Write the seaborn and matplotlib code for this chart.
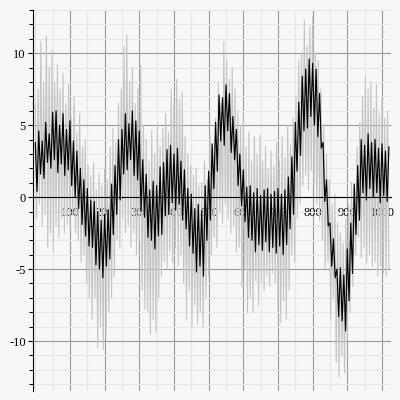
import numpy as np
import pandas as pd
import matplotlib
matplotlib.use("Agg")
import matplotlib.pyplot as plt
import seaborn as sns
from matplotlib.ticker import MultipleLocator, FixedLocator

# ---------------- data (sample index vs. value) ----------------
# black (clean) signal: alternating upper / lower swings
black_step = 10
black_hi = [3.8, 4.6, 3.9, 5.2, 4.4, 5.9, 6.0, 5.0, 5.8, 4.7,
            5.3, 3.9, 3.2, 2.0, 1.2, 0.6, -0.2, -0.3, -1.0, -1.6,
            -1.2, -0.9, 0.9, 2.2, 4.0, 4.7, 5.8, 5.1, 6.0, 5.3,
            4.6, 2.6, 1.6, 0.5, 1.1, 0.8, 2.1, 2.4, 3.3, 3.6,
            3.0, 3.4, 2.5, 1.9, 0.6, 0.2, -0.8, -0.5, -0.9, 0.8,
            1.8, 3.7, 5.2, 7.1, 6.9, 7.8, 7.2, 5.6, 4.7, 3.0,
            1.9, 0.7, 0.8, 0.3, 0.6, 0.1, 0.5, 0.6, 0.2, 0.4,
            0.6, 0.2, 0.5, 1.4, 2.8, 5.2, 6.6, 8.4, 8.9, 9.6,
            9.3, 8.9, 7.2, 3.8, 1.2, -1.8, -2.9, -5.0, -4.9, -5.4,
            -3.6, -1.8, 0.9, 2.2, 4.0, 3.6, 4.4, 3.8, 4.0, 3.4,
            3.7, 3.2, 3.5]
black_lo = [0.4, 1.6, 1.3, 2.4, 2.0, 2.6, 1.7, 2.3, 1.5, 1.9,
            0.8, 0.0, -0.8, -1.9, -2.7, -3.4, -3.5, -4.7, -5.0, -5.6,
            -4.8, -4.3, -2.6, -1.2, -0.2, 1.6, 1.9, 2.6, 1.5, 1.2,
            -1.0, -1.4, -2.8, -3.0, -3.6, -2.7, -2.6, -1.3, -1.2, -0.4,
            -0.9, -0.5, -1.6, -2.2, -3.4, -3.9, -5.2, -4.8, -5.5, -3.0,
            -1.6, 0.6, 1.8, 3.9, 3.6, 4.6, 3.1, 2.6, 0.8, -0.6,
            -1.7, -2.8, -3.0, -3.8, -3.3, -3.7, -3.1, -3.8, -3.5, -3.9,
            -3.4, -4.0, -3.3, -2.2, -1.2, 1.8, 2.9, 4.6, 4.8, 5.6,
            5.0, 4.2, 3.4, -0.3, -2.0, -4.8, -5.6, -8.3, -8.6, -9.3,
            -7.2, -5.3, -2.6, -1.6, 0.3, -0.2, 0.6, 0.0, 0.3, -0.4,
            0.1, -0.3]

# gray (noisy) signal: alternating upper / lower spikes
gray_step = 8
gray_hi = [6.5, 7.5, 10.8, 8.0, 11.2, 9.0,
           10.2, 8.0, 9.2, 7.5, 8.6, 6.5, 7.8,
           5.5, 7.0, 4.5, 5.8, 3.5, 4.0, 2.2,
           1.5, 2.4, 0.5, 1.6, 0.8, 2.0,
           1.2, 3.5, 4.8, 3.8, 6.5, 7.5, 10.5,
           11.3, 8.0, 9.0, 6.5, 7.5, 9.2, 5.0,
           4.0, 2.5, 4.6, 3.0, 5.0, 3.5,
           4.8, 5.8, 4.5, 7.5, 6.5, 8.2, 6.8,
           7.3, 4.2, 3.0, 2.2, 1.5, 2.0, 0.8,
           1.0, 2.5, 1.2, 4.5, 3.5, 5.5,
           8.0, 6.5, 10.8, 9.5, 8.2, 9.0, 7.5,
           6.0, 5.0, 5.8, 3.5, 4.5, 2.5, 4.2,
           3.0, 4.3, 2.5, 3.5, 2.0, 3.2,
           2.2, 3.8, 2.5, 4.2, 2.8, 5.0, 3.6,
           5.5, 7.0, 9.5, 10.0, 12.3, 10.5, 11.8,
           12.5, 10.0, 9.5, 7.5, 5.0, 3.0,
           1.2, -0.5, 0.2, -1.8, -2.5, -3.2, -1.5,
           -0.5, 1.0, 0.5, 3.5, 5.2, 7.0, 8.4,
           7.5, 8.0, 6.2, 7.8, 5.8, 6.8,
           5.5, 6.0]
gray_lo = [-1.5, -0.5, -2.0, -1.2, -3.5, -2.5,
           -3.8, -2.0, -2.8, -1.5, -2.5, -1.8, -2.2,
           -1.2, -2.5, -3.0, -4.5, -4.0, -6.0, -7.0,
           -8.5, -7.0, -10.5, -9.0, -10.6, -9.5,
           -8.0, -7.0, -5.5, -3.0, -3.5, -1.5, -2.5,
           -2.0, -3.5, -2.5, -4.0, -3.0, -6.5, -7.8,
           -8.0, -9.5, -8.5, -9.4, -7.0, -5.5,
           -4.5, -5.0, -3.8, -4.5, -3.5, -4.8, -4.0,
           -6.0, -8.5, -6.5, -9.0, -7.5, -8.8, -8.0,
           -9.0, -7.0, -5.5, -4.0, -2.8, -3.5,
           -1.0, -1.8, -0.5, -1.5, -2.5, -2.0, -3.8,
           -3.5, -6.2, -5.0, -8.0, -7.0, -8.0, -5.8,
           -7.5, -6.0, -6.5, -5.5, -6.2, -5.3,
           -6.0, -7.8, -8.7, -7.2, -8.5, -6.5, -4.0,
           -4.5, -1.5, -0.5, 0.8, 1.5, 0.5, 1.8,
           0.8, -0.5, -1.6, -3.0, -5.0, -4.5,
           -8.5, -7.0, -11.5, -12.5, -11.0, -12.2, -9.9,
           -8.0, -6.2, -4.0, -2.8, -4.2, -3.5, -4.6,
           -4.0, -4.8, -4.5, -5.5, -4.8, -5.3,
           -5.5, -5.0]

x_ticks = [100, 200, 300, 400, 500, 600, 700, 800, 900, 1000]
y_ticks = [-10, -5, 0, 5, 10]


def series(hi, lo, step):
    xh = np.arange(len(hi)) * step
    xl = np.arange(len(lo)) * step + step / 2
    df = pd.DataFrame({"x": np.concatenate([xh, xl]),
                       "y": np.concatenate([hi, lo])})
    return df.sort_values("x").reset_index(drop=True)


black_df = series(black_hi, black_lo, black_step)
gray_df = series(gray_hi, gray_lo, gray_step)

# ---------------- style ----------------
sns.set_theme(style="white")
plt.rcParams['font.family'] = ['Liberation Serif', 'DejaVu Serif']
plt.rcParams['axes.unicode_minus'] = False

bg = "#f7f7f7"
fig = plt.figure(figsize=(4, 4), dpi=100, facecolor=bg)
ax = fig.add_axes([33 / 400, 9 / 400, 358 / 400, 381 / 400])
ax.set_facecolor(bg)

sns.lineplot(data=gray_df, x="x", y="y", color="#c4c4c4", linewidth=0.8,
             estimator=None, ax=ax)
sns.lineplot(data=black_df, x="x", y="y", color="black", linewidth=0.85,
             estimator=None, ax=ax)

ax.set_xlim(-6.6, 1026)
ax.set_ylim(-13.47, 13)
ax.set_xlabel("")
ax.set_ylabel("")

for s in ("top", "right"):
    ax.spines[s].set_visible(False)
ax.spines["bottom"].set_position(("data", 0))
for s in ("bottom", "left"):
    ax.spines[s].set_color("black")
    ax.spines[s].set_linewidth(0.8)

ax.xaxis.set_major_locator(FixedLocator(x_ticks))
ax.xaxis.set_minor_locator(MultipleLocator(50))
ax.yaxis.set_major_locator(FixedLocator(y_ticks))
ax.yaxis.set_minor_locator(MultipleLocator(1))
ax.set_xticklabels([str(v) for v in x_ticks])
ax.set_yticklabels([str(v) for v in y_ticks])

ax.tick_params(axis="x", which="both", length=0, pad=7, labelsize=9,
               labelcolor="black")
ax.tick_params(axis="y", which="major", direction="out", length=3.6,
               width=0.8, color="black", pad=1.5, labelsize=9,
               labelcolor="black", left=True)
ax.tick_params(axis="y", which="minor", direction="out", length=2.9,
               width=0.8, color="black", left=True)

ax.grid(True, which="major", color="#9a9a9a", linewidth=0.8)
ax.grid(True, which="minor", color="#e6e6e6", linewidth=0.8)
ax.set_axisbelow(True)

fig.savefig("out.png", dpi=100, facecolor=bg)
